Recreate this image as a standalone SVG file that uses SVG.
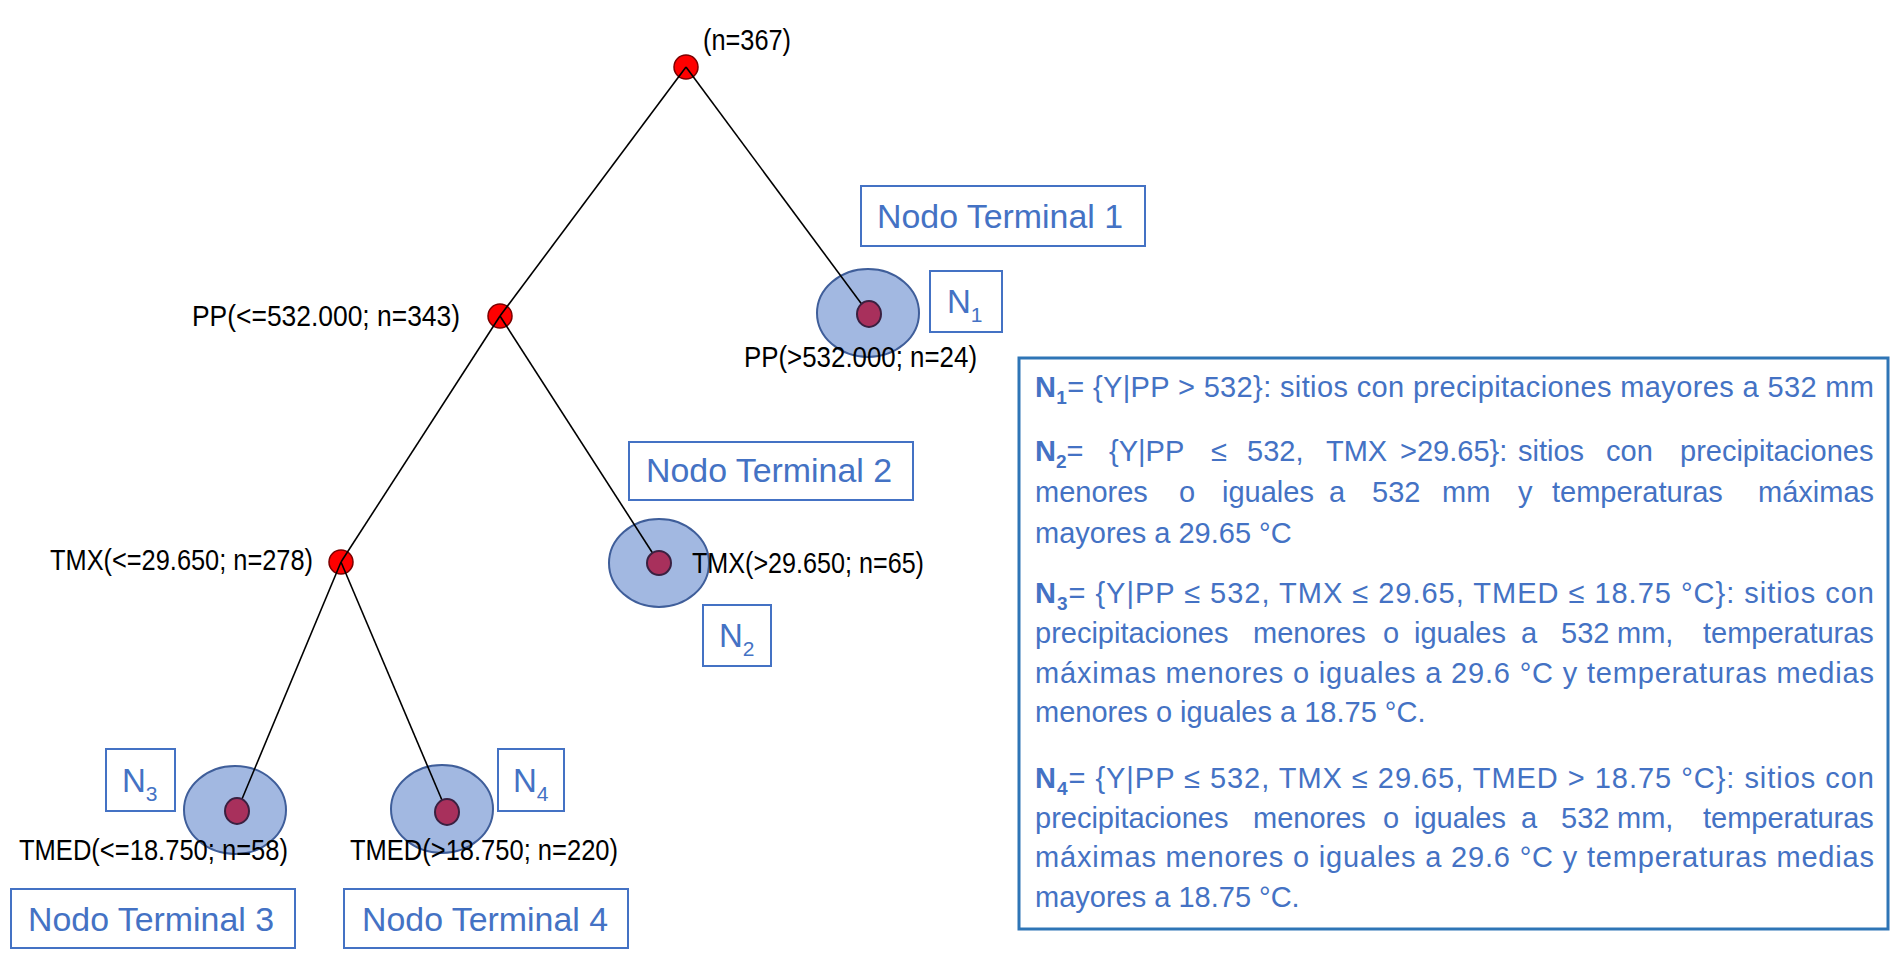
<svg xmlns="http://www.w3.org/2000/svg" width="1896" height="955" viewBox="0 0 1896 955">
<style>
.bg{fill:#ffffff}
.split{fill:#ff0000;stroke:#7a0000;stroke-width:1.5}
.region{fill:#a2b8e1;stroke:#3f5e9a;stroke-width:2}
.dot{fill:#a8305c;stroke:#3a2040;stroke-width:2}
.conn line{stroke:#000;stroke-width:1.6}
.lab{font-family:"Liberation Sans",Arial,sans-serif;font-size:29px;fill:#000}
.tbox{fill:none;stroke:#4472c4;stroke-width:2}
.ttext{font-family:"Liberation Sans",Arial,sans-serif;font-size:34px;fill:#4472c4}
.nlab{font-family:"Liberation Sans",Arial,sans-serif;font-size:33px;fill:#4472c4}
.nsub{font-size:21px}
.desc{fill:none;stroke:#2e75b6;stroke-width:3}
.dt{font-family:"Liberation Sans",Arial,sans-serif;font-size:29px;fill:#4472c4}
.b{font-weight:bold}
.s{font-size:19px;font-weight:bold}
</style>
<rect class="bg" x="0" y="0" width="1896" height="955"/>

<!-- leaf regions -->
<g id="leaf-regions">
<ellipse class="region" cx="868" cy="313" rx="51" ry="44"/>
<ellipse class="region" cx="659" cy="563" rx="50" ry="44"/>
<ellipse class="region" cx="235" cy="810" rx="51" ry="44"/>
<ellipse class="region" cx="442" cy="809" rx="51" ry="44"/>
</g>

<!-- internal nodes -->
<g id="node-root"><circle class="split" cx="686" cy="67" r="12"/><text class="lab" x="703" y="50" textLength="88" lengthAdjust="spacingAndGlyphs">(n=367)</text></g>
<g id="node-pp"><circle class="split" cx="500" cy="316" r="12"/><text class="lab" x="192" y="326" textLength="268" lengthAdjust="spacingAndGlyphs">PP(&lt;=532.000; n=343)</text></g>
<g id="node-tmx"><circle class="split" cx="341" cy="562" r="12"/><text class="lab" x="50" y="570" textLength="263" lengthAdjust="spacingAndGlyphs">TMX(&lt;=29.650; n=278)</text></g>

<!-- connectors -->
<g id="connectors" class="conn">
<line x1="686" y1="67" x2="500" y2="316"/>
<line x1="686" y1="67" x2="869" y2="314"/>
<line x1="500" y1="316" x2="341" y2="562"/>
<line x1="500" y1="316" x2="659" y2="563"/>
<line x1="341" y1="562" x2="237" y2="811"/>
<line x1="341" y1="562" x2="447" y2="812"/>
</g>

<!-- leaf nodes -->
<g id="leaf-1">
<ellipse class="dot" cx="869" cy="314" rx="12" ry="13"/>
<text class="lab" x="744" y="367" textLength="233" lengthAdjust="spacingAndGlyphs">PP(&gt;532.000; n=24)</text>
<rect class="tbox" x="861" y="186" width="284" height="60"/>
<text class="ttext" x="877" y="228" textLength="246" lengthAdjust="spacingAndGlyphs">Nodo Terminal 1</text>
<rect class="tbox" x="930" y="271" width="72" height="61"/>
<text class="nlab" x="947" y="313">N<tspan class="nsub" dy="9">1</tspan></text>
</g>
<g id="leaf-2">
<ellipse class="dot" cx="659" cy="563" rx="12" ry="12"/>
<text class="lab" x="692" y="573" textLength="232" lengthAdjust="spacingAndGlyphs">TMX(&gt;29.650; n=65)</text>
<rect class="tbox" x="629" y="442" width="284" height="58"/>
<text class="ttext" x="646" y="482" textLength="246" lengthAdjust="spacingAndGlyphs">Nodo Terminal 2</text>
<rect class="tbox" x="703" y="605" width="68" height="61"/>
<text class="nlab" x="719" y="647">N<tspan class="nsub" dy="9">2</tspan></text>
</g>
<g id="leaf-3">
<ellipse class="dot" cx="237" cy="811" rx="12" ry="13"/>
<text class="lab" x="19" y="860" textLength="269" lengthAdjust="spacingAndGlyphs">TMED(&lt;=18.750; n=58)</text>
<rect class="tbox" x="106" y="749" width="69" height="62"/>
<text class="nlab" x="122" y="792">N<tspan class="nsub" dy="9">3</tspan></text>
<rect class="tbox" x="11" y="889" width="284" height="59"/>
<text class="ttext" x="28" y="931" textLength="246" lengthAdjust="spacingAndGlyphs">Nodo Terminal 3</text>
</g>
<g id="leaf-4">
<ellipse class="dot" cx="447" cy="812" rx="12" ry="13"/>
<text class="lab" x="350" y="860" textLength="268" lengthAdjust="spacingAndGlyphs">TMED(&gt;18.750; n=220)</text>
<rect class="tbox" x="498" y="749" width="66" height="62"/>
<text class="nlab" x="513" y="792">N<tspan class="nsub" dy="9">4</tspan></text>
<rect class="tbox" x="344" y="889" width="284" height="59"/>
<text class="ttext" x="362" y="931" textLength="246" lengthAdjust="spacingAndGlyphs">Nodo Terminal 4</text>
</g>

<!-- description box -->
<g id="description">
<rect class="desc" x="1019" y="358" width="869" height="571"/>
<text class="dt" x="1035" y="397" textLength="839" lengthAdjust="spacing"><tspan class="b">N</tspan><tspan class="s" dy="7">1</tspan><tspan dy="-7">= {Y|PP &gt; 532}: sitios con precipitaciones mayores a 532 mm</tspan></text>

<text class="dt" x="1035" y="461"><tspan class="b">N</tspan><tspan class="s" dy="7">2</tspan><tspan dy="-7">=</tspan><tspan x="1109">{Y|PP</tspan><tspan x="1211">≤</tspan><tspan x="1247">532,</tspan><tspan x="1326">TMX</tspan><tspan x="1400">&gt;29.65}:</tspan><tspan x="1518">sitios</tspan><tspan x="1606">con</tspan><tspan x="1680">precipitaciones</tspan></text>
<text class="dt" y="502"><tspan x="1035">menores</tspan><tspan x="1179">o</tspan><tspan x="1222">iguales</tspan><tspan x="1329">a</tspan><tspan x="1372">532</tspan><tspan x="1442">mm</tspan><tspan x="1518">y</tspan><tspan x="1552">temperaturas</tspan><tspan x="1758">máximas</tspan></text>
<text class="dt" x="1035" y="543">mayores a 29.65 °C</text>

<text class="dt" x="1035" y="603" textLength="839" lengthAdjust="spacing"><tspan class="b">N</tspan><tspan class="s" dy="7">3</tspan><tspan dy="-7">= {Y|PP ≤ 532, TMX ≤ 29.65, TMED ≤ 18.75 °C}: sitios con</tspan></text>
<text class="dt" y="643"><tspan x="1035">precipitaciones</tspan><tspan x="1253">menores</tspan><tspan x="1383">o</tspan><tspan x="1414">iguales</tspan><tspan x="1521">a</tspan><tspan x="1561">532</tspan><tspan x="1617">mm,</tspan><tspan x="1703">temperaturas</tspan></text>
<text class="dt" x="1035" y="683" textLength="839" lengthAdjust="spacing">máximas menores o iguales a 29.6 °C y temperaturas medias</text>
<text class="dt" x="1035" y="722">menores o iguales a 18.75 °C.</text>

<text class="dt" x="1035" y="788" textLength="839" lengthAdjust="spacing"><tspan class="b">N</tspan><tspan class="s" dy="7">4</tspan><tspan dy="-7">= {Y|PP ≤ 532, TMX ≤ 29.65, TMED &gt; 18.75 °C}: sitios con</tspan></text>
<text class="dt" y="828"><tspan x="1035">precipitaciones</tspan><tspan x="1253">menores</tspan><tspan x="1383">o</tspan><tspan x="1414">iguales</tspan><tspan x="1521">a</tspan><tspan x="1561">532</tspan><tspan x="1617">mm,</tspan><tspan x="1703">temperaturas</tspan></text>
<text class="dt" x="1035" y="867" textLength="839" lengthAdjust="spacing">máximas menores o iguales a 29.6 °C y temperaturas medias</text>
<text class="dt" x="1035" y="907">mayores a 18.75 °C.</text>
</g>
</svg>
